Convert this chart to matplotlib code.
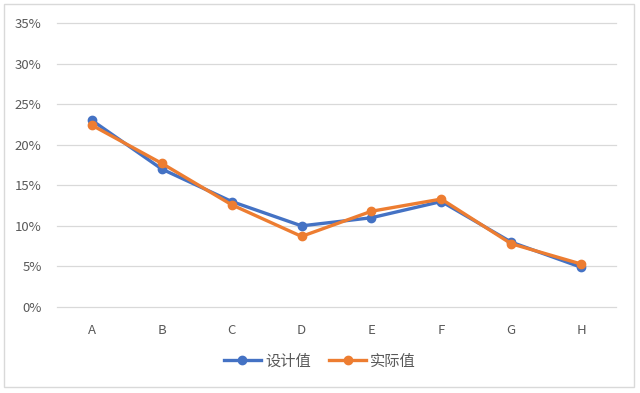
import matplotlib
matplotlib.use("Agg")
import matplotlib.pyplot as plt
from matplotlib.patches import Rectangle
from matplotlib.ticker import PercentFormatter

plt.rcParams['font.family'] = ['Noto Sans CJK SC', 'DejaVu Sans']

categories = ["A", "B", "C", "D", "E", "F", "G", "H"]
design = [0.23, 0.17, 0.13, 0.10, 0.11, 0.13, 0.08, 0.049]
actual = [0.224, 0.177, 0.126, 0.087, 0.118, 0.133, 0.078, 0.053]
series_names = ["设计值", "实际值"]
yticks = [0, 0.05, 0.10, 0.15, 0.20, 0.25, 0.30, 0.35]

blue = "#4472C4"
orange = "#ED7D31"
gray = "#595959"

fig = plt.figure(figsize=(6.4, 3.93), dpi=100)
fig.patch.set_facecolor("white")
fig.patches.append(Rectangle((4/640, 1-387/393), 630/640, 383/393, transform=fig.transFigure,
                             fill=False, edgecolor="#D9D9D9", linewidth=1.0))

ax = fig.add_axes([57/640, 1-307/393, 559/640, 284/393])
x = list(range(len(categories)))
ax.plot(x, design, color=blue, lw=2.4, marker="o", ms=6, label=series_names[0], zorder=3)
ax.plot(x, actual, color=orange, lw=2.4, marker="o", ms=6, label=series_names[1], zorder=4)

ax.set_xlim(-0.5, len(categories) - 0.5)
ax.set_ylim(0, 0.35)
ax.set_yticks(yticks)
ax.yaxis.set_major_formatter(PercentFormatter(1.0, decimals=0))
ax.set_xticks(x)
ax.set_xticklabels(categories)
ax.grid(axis="y", color="#D9D9D9", lw=0.9)
for gl in ax.get_ygridlines():
    gl.set_clip_on(False)
ax.set_axisbelow(True)
for s in ax.spines.values():
    s.set_visible(False)
ax.tick_params(axis="both", length=0, colors=gray, labelsize=9.5)
ax.tick_params(axis="x", pad=12)
ax.tick_params(axis="y", pad=11)

leg = fig.legend(loc="center", bbox_to_anchor=(320/640, 1-361/393), ncol=2, frameon=False,
                 fontsize=11, handlelength=2.4, columnspacing=1.2, handletextpad=0.3)
for t in leg.get_texts():
    t.set_color(gray)

fig.savefig("out.png", dpi=100)
